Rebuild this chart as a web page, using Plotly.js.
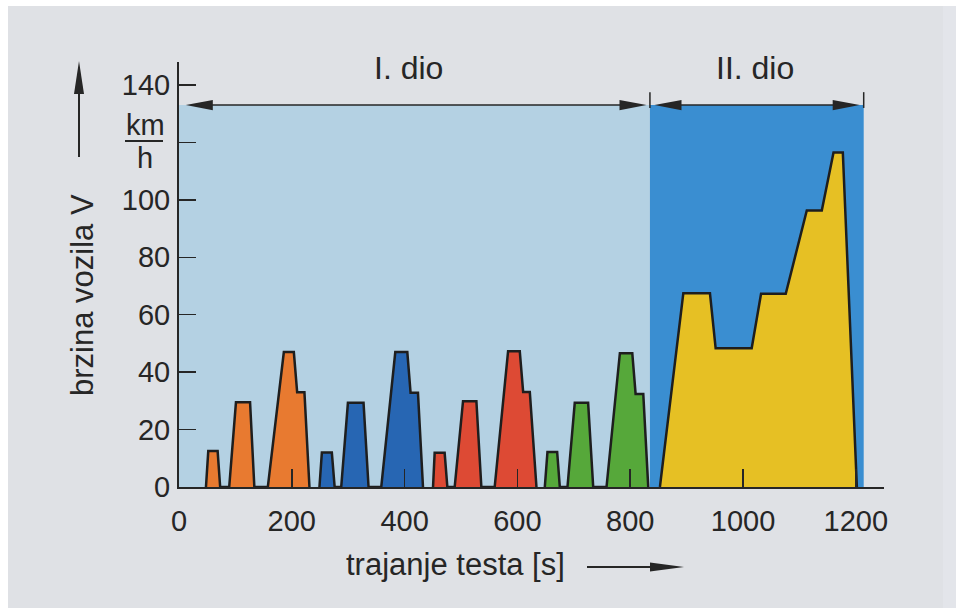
<!DOCTYPE html>
<html>
<head>
<meta charset="utf-8">
<script src="https://cdn.plot.ly/plotly-3.0.1.min.js"></script>
<style>
  html, body { margin: 0; padding: 0; background: #dfe1e5; }
  #chart { width: 956px; height: 608px; }
</style>
</head>
<body>
<div id="chart"></div>
<script>
// ---------------- DATA ----------------
// time [s] and speed [km/h] for the four urban cycles (part I) and the extra-urban cycle (part II)
const cycle1_t = [47.8, 51.9, 68.5, 73.0, 89.0, 101.0, 126.0, 133.6, 157.5, 185.9, 203.6, 209.5, 222.4, 231.3];
const cycle1_v = [0, 12.5, 12.5, 0, 0, 29.5, 29.5, 0, 0, 47, 47, 33, 33, 0];

const cycle2_t = [249.0, 253.3, 271.0, 276.0, 287.6, 299.5, 327.2, 336.1, 358.6, 383.5, 404.8, 410.6, 423.7, 432.6];
const cycle2_v = [0, 12, 12, 0, 0, 29.3, 29.3, 0, 0, 47, 47, 32.8, 32.8, 0];

const cycle3_t = [450.4, 453.3, 471.0, 475.8, 488.8, 503.6, 527.3, 536.1, 559.7, 583.5, 604.2, 610.2, 622.0, 633.8];
const cycle3_v = [0, 11.9, 11.9, 0, 0, 29.9, 29.9, 0, 0, 47.3, 47.3, 33.1, 33.1, 0];

const cycle4_t = [648.6, 653.3, 670.5, 675.2, 688.8, 701.7, 725.4, 734.4, 758.0, 781.7, 803.7, 809.6, 823.2, 832.0];
const cycle4_v = [0, 12.2, 12.2, 0, 0, 29.3, 29.3, 0, 0, 46.6, 46.6, 32.4, 32.4, 0];

const eudc_t = [852.7, 894.2, 941.4, 951.5, 1015.4, 1032.0, 1075.8, 1113.1, 1139.7, 1160.5, 1177.0, 1201.9];
const eudc_v = [0, 67.5, 67.5, 48.3, 48.3, 67.3, 67.3, 96.3, 96.3, 116.5, 116.5, 0];

// part boundaries [s] and labels
const partBounds = [0, 835, 1214];
const partLabels = ['I. dio', 'II. dio'];
const partTop = 133;

// axis ticks
const xTicks = [0, 200, 400, 600, 800, 1000, 1200];
const xTickText = ['0', '200', '400', '600', '800', '1000', '1200'];
const yTicks = [0, 20, 40, 60, 80, 100, 120, 140];
const yTickText = ['0', '20', '40', '60', '80', '100', '', '140'];

// ---------------- STYLE ----------------
const FONT = '"Liberation Sans", Arial, Helvetica, sans-serif';
const INK = '#262626';
const BG = '#dfe1e5';
const LIGHT_BLUE = '#b4d1e3';
const DARK_BLUE = '#3a8ed1';
const colors = ['#e87a30', '#2766b3', '#dd4a34', '#56a83a', '#e6c024'];

// plot box in pixels
const M = { l: 179, r: 72, t: 62, b: 121 };
const PW = 956 - M.l - M.r, PH = 608 - M.t - M.b;
const XR = [0, 1250], YR = [0, 148];
const pxX = x => (x - M.l) / PW;              // pixel -> paper x
const pxY = y => (M.t + PH - y) / PH;         // pixel -> paper y

const series = [
  [cycle1_t, cycle1_v], [cycle2_t, cycle2_v], [cycle3_t, cycle3_v],
  [cycle4_t, cycle4_v], [eudc_t, eudc_v]
];
const traces = series.map((s, i) => ({
  x: s[0], y: s[1], type: 'scatter', mode: 'lines',
  fill: 'tozeroy', fillcolor: colors[i],
  line: { color: '#1e1e1e', width: 2.5, shape: 'linear' },
  hoverinfo: 'x+y', showlegend: false
}));

// helper: triangle path (paper or data coords)
function tri(x1, y1, x2, y2, x3, y3) {
  return `M${x1},${y1} L${x2},${y2} L${x3},${y3} Z`;
}

const shapes = [];
// photo frame strips
shapes.push({ type: 'rect', xref: 'paper', yref: 'paper', x0: pxX(0), x1: pxX(956), y0: pxY(0), y1: pxY(6), fillcolor: '#ffffff', line: { width: 0 }, layer: 'below' });
shapes.push({ type: 'rect', xref: 'paper', yref: 'paper', x0: pxX(0), x1: pxX(8), y0: pxY(0), y1: pxY(608), fillcolor: '#ffffff', line: { width: 0 }, layer: 'below' });
shapes.push({ type: 'rect', xref: 'paper', yref: 'paper', x0: pxX(943), x1: pxX(956), y0: pxY(6), y1: pxY(608), fillcolor: '#e3e5ea', line: { width: 0 }, layer: 'below' });

// part regions
shapes.push({ type: 'rect', xref: 'x', yref: 'y', x0: partBounds[0], x1: partBounds[1], y0: 0, y1: partTop, fillcolor: LIGHT_BLUE, line: { width: 0 }, layer: 'below' });
shapes.push({ type: 'rect', xref: 'x', yref: 'y', x0: partBounds[1], x1: partBounds[2], y0: 0, y1: partTop, fillcolor: DARK_BLUE, line: { width: 0 }, layer: 'below' });
// separator ticks
[partBounds[1], partBounds[2]].forEach(b => {
  shapes.push({ type: 'line', xref: 'x', yref: 'y', x0: b, x1: b, y0: partTop - 1, y1: partTop + 4.5, line: { color: INK, width: 1.5 } });
});
// double arrows of the parts
const AL = 48, AH = 1.8; // arrowhead length [s], half-height [km/h]
const arrowSpans = [[partBounds[0] + 12, partBounds[1] - 6], [partBounds[1] + 8, partBounds[2] - 7]];
arrowSpans.forEach(([a, b]) => {
  shapes.push({ type: 'line', xref: 'x', yref: 'y', x0: a + 10, x1: b - 10, y0: partTop, y1: partTop, line: { color: INK, width: 1.5 } });
  shapes.push({ type: 'path', xref: 'x', yref: 'y', path: tri(a, partTop, a + AL, partTop + AH, a + AL, partTop - AH), fillcolor: INK, line: { width: 0 } });
  shapes.push({ type: 'path', xref: 'x', yref: 'y', path: tri(b, partTop, b - AL, partTop + AH, b - AL, partTop - AH), fillcolor: INK, line: { width: 0 } });
});

// y-title arrow (vertical, pointing up)
shapes.push({ type: 'line', xref: 'paper', yref: 'paper', x0: pxX(79), x1: pxX(79), y0: pxY(157), y1: pxY(85), line: { color: INK, width: 2 } });
shapes.push({ type: 'path', xref: 'paper', yref: 'paper', path: tri(pxX(79), pxY(61), pxX(74), pxY(94), pxX(84), pxY(94)), fillcolor: INK, line: { width: 0 } });
// x-title arrow (horizontal, pointing right)
shapes.push({ type: 'line', xref: 'paper', yref: 'paper', x0: pxX(587), x1: pxX(660), y0: pxY(567), y1: pxY(567), line: { color: INK, width: 2 } });
shapes.push({ type: 'path', xref: 'paper', yref: 'paper', path: tri(pxX(684), pxY(567), pxX(650), pxY(562.5), pxX(650), pxY(571.5)), fillcolor: INK, line: { width: 0 } });
// km/h fraction bar
shapes.push({ type: 'line', xref: 'paper', yref: 'paper', x0: pxX(125), x1: pxX(163), y0: pxY(141), y1: pxY(141), line: { color: INK, width: 2 } });

const annFont = { family: FONT, size: 31, color: INK };
const annotations = [
  { text: partLabels[0], xref: 'paper', yref: 'paper', x: pxX(408), y: pxY(68), xanchor: 'center', yanchor: 'middle', showarrow: false, font: { family: FONT, size: 32, color: INK } },
  { text: partLabels[1], xref: 'paper', yref: 'paper', x: pxX(755), y: pxY(68), xanchor: 'center', yanchor: 'middle', showarrow: false, font: { family: FONT, size: 32, color: INK } },
  { text: 'brzina vozila V', xref: 'paper', yref: 'paper', x: pxX(82), y: pxY(295), xanchor: 'center', yanchor: 'middle', textangle: -90, showarrow: false, font: annFont },
  { text: 'trajanje testa [s]', xref: 'paper', yref: 'paper', x: pxX(455), y: pxY(564), xanchor: 'center', yanchor: 'middle', showarrow: false, font: annFont },
  { text: 'km', xref: 'paper', yref: 'paper', x: pxX(145), y: pxY(125), xanchor: 'center', yanchor: 'middle', showarrow: false, font: { family: FONT, size: 29, color: INK } },
  { text: 'h', xref: 'paper', yref: 'paper', x: pxX(145), y: pxY(158), xanchor: 'center', yanchor: 'middle', showarrow: false, font: { family: FONT, size: 29, color: INK } }
];

const layout = {
  width: 956, height: 608,
  margin: M,
  paper_bgcolor: BG, plot_bgcolor: BG,
  showlegend: false,
  xaxis: {
    range: XR, fixedrange: true,
    tickvals: xTicks, ticktext: xTickText,
    ticks: 'inside', ticklen: 18, tickwidth: 1.5, tickcolor: INK,
    showline: true, linecolor: INK, linewidth: 2,
    showgrid: false, zeroline: false,
    tickfont: { family: FONT, size: 29, color: INK },
    ticklabelstandoff: 7
  },
  yaxis: {
    range: YR, fixedrange: true,
    tickvals: yTicks, ticktext: yTickText,
    ticks: 'inside', ticklen: 17, tickwidth: 1.5, tickcolor: INK,
    showline: true, linecolor: INK, linewidth: 2,
    showgrid: false, zeroline: false,
    tickfont: { family: FONT, size: 29, color: INK },
    ticklabelstandoff: 1
  },
  shapes: shapes,
  annotations: annotations
};

Plotly.newPlot('chart', traces, layout, { displayModeBar: false, staticPlot: true });
</script>
</body>
</html>
